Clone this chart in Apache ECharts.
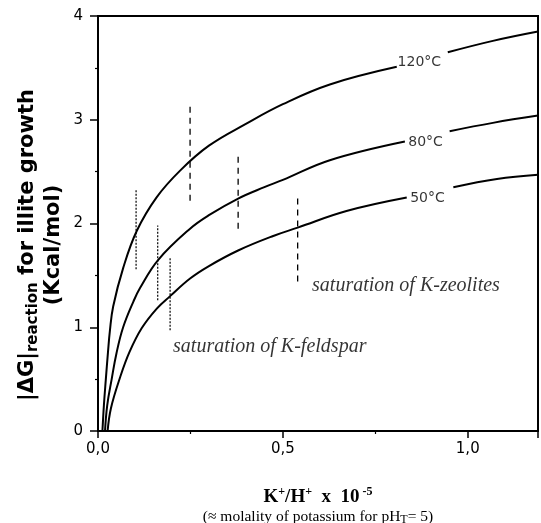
<!DOCTYPE html>
<html>
<head>
<meta charset="utf-8">
<script src="https://cdn.jsdelivr.net/npm/echarts@6/dist/echarts.min.js"></script>
<style>
  html, body { margin: 0; padding: 0; background: #fff; }
  #chart { width: 541px; height: 523px; }
</style>
</head>
<body>
<div id="chart"></div>
<script>
// curves: [K+/H+ x 1e-5, |dG|], null = gap for the label
const curve120 = [[0.012, 0], [0.016, 0.25], [0.021, 0.49], [0.027, 0.76], [0.032, 0.96], [0.041, 1.2],
  [0.068, 1.57], [0.105, 1.93], [0.158, 2.25], [0.222, 2.51], [0.30, 2.75], [0.40, 2.96], [0.50, 3.15],
  [0.627, 3.34], [0.808, 3.51], null, [0.946, 3.65], [1.068, 3.76], [1.19, 3.85]];
const curve80 = [[0.019, 0], [0.025, 0.25], [0.037, 0.5], [0.05, 0.75], [0.068, 1.0], [0.096, 1.25],
  [0.114, 1.38], [0.163, 1.65], [0.249, 1.95], [0.30, 2.08], [0.379, 2.24], [0.45, 2.35], [0.50, 2.42],
  [0.627, 2.61], [0.83, 2.79], null, [0.951, 2.89], [1.068, 2.97], [1.19, 3.04]];
const curve50 = [[0.026, 0], [0.035, 0.22], [0.06, 0.52], [0.085, 0.76], [0.118, 0.99], [0.159, 1.18],
  [0.195, 1.30], [0.249, 1.47], [0.30, 1.59], [0.379, 1.74], [0.474, 1.88], [0.54, 1.96],
  [0.672, 2.12], [0.835, 2.25], null, [0.961, 2.35], [1.079, 2.43], [1.19, 2.47]];

const curveLabels = [[0.869, 3.55, '120°C'], [0.886, 2.78, '80°C'], [0.891, 2.245, '50°C']];

// saturation lines: x, bottom, top
const feldsparX = [0.103, 0.1615, 0.195];
const feldsparLow = [1.56, 1.26, 0.97];
const feldsparHigh = [2.32, 1.98, 1.68];
const zeoliteX = [0.249, 0.379, 0.540];
const zeoliteLow = [2.22, 1.95, 1.44];
const zeoliteHigh = [3.13, 2.67, 2.29];

const notes = [[0.579, 1.40, 'saturation of K-zeolites'], [0.203, 0.81, 'saturation of K-feldspar']];

const xTicks = [0, 0.5, 1.0];
const yTicks = [0, 1, 2, 3, 4];

const chart = echarts.init(document.getElementById('chart'));

const series = [];
[curve120, curve80, curve50].forEach(function (c) {
  series.push({
    type: 'line', data: c, showSymbol: false, smooth: 0.4, connectNulls: false,
    lineStyle: { color: '#000', width: 2 }, silent: true
  });
});
feldsparX.forEach(function (x, i) {
  series.push({
    type: 'line', data: [[x, feldsparLow[i]], [x, feldsparHigh[i]]], showSymbol: false,
    lineStyle: { color: '#000', width: 1.2, type: [2, 1.5] }, silent: true
  });
});
zeoliteX.forEach(function (x, i) {
  series.push({
    type: 'line', data: [[x, zeoliteLow[i]], [x, zeoliteHigh[i]]], showSymbol: false,
    lineStyle: { color: '#000', width: 1.3, type: [6, 5] }, silent: true
  });
});
series.push({
  type: 'scatter', symbolSize: 0, silent: true,
  data: curveLabels.map(function (d) { return { value: [d[0], d[1]], name: d[2] }; }),
  label: {
    show: true, position: 'inside', formatter: '{b}', color: '#000', textBorderWidth: 0,
    fontFamily: 'DejaVu Sans', fontSize: 14, align: 'center', verticalAlign: 'middle'
  }
});
series.push({
  type: 'scatter', symbolSize: 0, silent: true,
  data: notes.map(function (d) { return { value: [d[0], d[1]], name: d[2] }; }),
  label: {
    show: true, position: 'inside', formatter: '{b}', color: '#000', textBorderWidth: 0,
    fontFamily: 'Liberation Serif', fontStyle: 'italic', fontSize: 20,
    align: 'left', verticalAlign: 'middle'
  }
});

chart.setOption({
  animation: false,
  grid: {
    left: 98, right: 3, top: 16, bottom: 92, outerBoundsMode: 'none',
    show: true, borderColor: '#000', borderWidth: 2
  },
  xAxis: {
    type: 'value', min: 0, max: 1.19, interval: 0.5,
    axisLine: { lineStyle: { color: '#000', width: 2 } },
    axisTick: { length: 7, lineStyle: { color: '#000', width: 1.5 } },
    minorTick: { show: true, splitNumber: 2, length: 3, lineStyle: { color: '#000', width: 1.2 } },
    splitLine: { show: false },
    axisLabel: {
      margin: 11, color: '#000', fontFamily: 'DejaVu Sans', fontSize: 15, showMaxLabel: false,
      formatter: function (v) { return xTicks.indexOf(v) >= 0 ? v.toFixed(1).replace('.', ',') : ''; }
    },
    name: '{b|K}{sup|+}{b|/H}{sup|+}{b|  x  10}{sup| -5}\n{r|(≈ molality of potassium for pH}{sc|T}{r|= 5)}',
    nameLocation: 'middle', nameGap: 55,
    nameTextStyle: {
      color: '#000',
      rich: {
        b: { fontFamily: 'Liberation Serif', fontWeight: 'bold', fontSize: 19, lineHeight: 22, color: '#000' },
        sup: { fontFamily: 'Liberation Serif', fontWeight: 'bold', fontSize: 12, lineHeight: 12, verticalAlign: 'top', color: '#000' },
        r: { fontFamily: 'Liberation Serif', fontSize: 15.5, lineHeight: 18, color: '#000' },
        sc: { fontFamily: 'Liberation Serif', fontSize: 12, lineHeight: 14, verticalAlign: 'bottom', color: '#000' }
      }
    }
  },
  yAxis: {
    type: 'value', min: 0, max: 4, interval: 1,
    axisLine: { show: true, lineStyle: { color: '#000', width: 2 } },
    axisTick: { show: true, length: 8, lineStyle: { color: '#000', width: 1.5 } },
    minorTick: { show: true, splitNumber: 2, length: 3, lineStyle: { color: '#000', width: 1.2 } },
    splitLine: { show: false },
    axisLabel: {
      margin: 15, color: '#000', fontFamily: 'DejaVu Sans', fontSize: 15,
      formatter: function (v) { return yTicks.indexOf(v) >= 0 ? String(v) : ''; }
    }
  },
  graphic: [{
    type: 'text', x: 41, y: 245, rotation: Math.PI / 2, silent: true,
    style: {
      text: '{a||ΔG|}{s|reaction}{a| for illite growth}\n{a|(Kcal/mol)}',
      align: 'center', verticalAlign: 'middle', fill: '#000',
      rich: {
        a: { fontFamily: 'DejaVu Sans', fontWeight: 'bold', fontSize: 21, lineHeight: 26, fill: '#000' },
        s: { fontFamily: 'DejaVu Sans', fontWeight: 'bold', fontSize: 15, lineHeight: 18, verticalAlign: 'bottom', fill: '#000' }
      }
    }
  }],
  series: series
});
</script>
</body>
</html>
